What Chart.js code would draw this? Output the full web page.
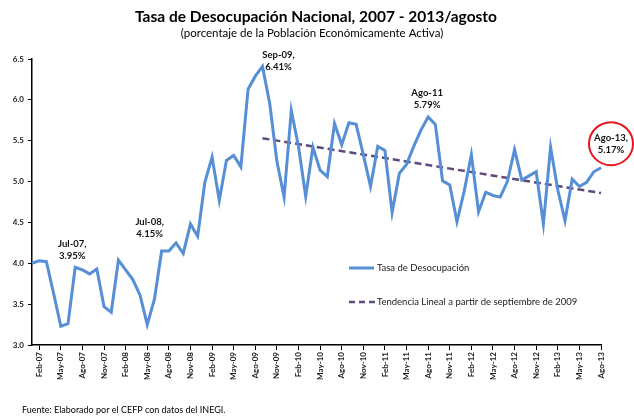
<!DOCTYPE html>
<html>
<head>
<meta charset="utf-8">
<script src="https://cdn.jsdelivr.net/npm/chart.js@4"></script>
<style>
  html, body { margin: 0; padding: 0; background: #fff; }
  #wrap { width: 634px; height: 416px; position: relative; }
</style>
</head>
<body>
<div id="wrap"><canvas id="grafica" width="634" height="416"></canvas></div>
<script>
// Datos mensuales, enero 2007 - agosto 2013
const anios = ['07', '08', '09', '10', '11', '12', '13'];
const meses = ['Ene', 'Feb', 'Mar', 'Abr', 'May', 'Jun', 'Jul', 'Ago', 'Sep', 'Oct', 'Nov', 'Dic'];
const mesesEtiqueta = ['Feb', 'May', 'Ago', 'Nov'];

const tasa = [
    4.00, 4.03, 4.02, 3.63, 3.23, 3.26, 3.95, 3.92, 3.87, 3.93, 3.47, 3.40,
    4.04, 3.92, 3.80, 3.61, 3.25, 3.56, 4.15, 4.15, 4.25, 4.12, 4.48, 4.33,
    4.99, 5.30, 4.77, 5.26, 5.32, 5.18, 6.13, 6.29, 6.41, 5.96, 5.25, 4.81,
    5.87, 5.43, 4.82, 5.42, 5.14, 5.06, 5.71, 5.45, 5.72, 5.70, 5.33, 4.94,
    5.43, 5.38, 4.62, 5.10, 5.21, 5.43, 5.63, 5.79, 5.70, 5.01, 4.96, 4.51,
    4.88, 5.33, 4.63, 4.87, 4.83, 4.81, 5.00, 5.39, 5.02, 5.07, 5.12, 4.48,
    5.42, 4.90, 4.52, 5.03, 4.94, 4.99, 5.12, 5.17
];

// tendencia lineal desde septiembre de 2009 (extremos)
const tendenciaInicio = ['Sep-09', 5.53];
const tendenciaFin = ['Ago-13', 4.86];

const anotaciones = [
    ['Jul-07', 'Jul-07,', '3.95%'],
    ['Jul-08', 'Jul-08,', '4.15%'],
    ['Sep-09', 'Sep-09,', '6.41%'],
    ['Ago-11', 'Ago-11', '5.79%'],
    ['Ago-13', 'Ago-13,', '5.17%']
];

const yTicks = [3.0, 3.5, 4.0, 4.5, 5.0, 5.5, 6.0, 6.5];

const categorias = [];
anios.forEach(a => meses.forEach(m => categorias.push(m + '-' + a)));
categorias.length = tasa.length;

const tendencia = categorias.map(c => {
    if (c === tendenciaInicio[0]) return tendenciaInicio[1];
    if (c === tendenciaFin[0]) return tendenciaFin[1];
    return null;
});

const AZUL = '#568FD6';
const MORADO = '#5E4A7D';
const FUENTE = 'Lato, "Open Sans", sans-serif';

function etiquetaVisible(i) {
    return mesesEtiqueta.includes(categorias[i].slice(0, 3));
}

const extras = {
    id: 'extras',
    afterDraw(chart) {
        const ctx = chart.ctx;
        const x = chart.scales.x, y = chart.scales.y;
        ctx.save();
        ctx.fillStyle = '#000';
        ctx.textAlign = 'center';
        ctx.textBaseline = 'middle';
        ctx.font = 'bold 15.5px ' + FUENTE;
        ctx.fillText('Tasa de Desocupación Nacional, 2007 - 2013/agosto', 316, 17);
        ctx.font = '11.5px ' + FUENTE;
        ctx.fillText('(porcentaje de la Población Económicamente Activa)', 312, 33);

        ctx.textAlign = 'left';
        ctx.font = '9px ' + FUENTE;
        ctx.fillText('Fuente: Elaborado por el CEFP con datos del INEGI.', 22, 410);

        // leyenda
        ctx.strokeStyle = AZUL;
        ctx.lineWidth = 3;
        ctx.beginPath(); ctx.moveTo(349, 268); ctx.lineTo(374, 268); ctx.stroke();
        ctx.strokeStyle = MORADO;
        ctx.lineWidth = 2.5;
        ctx.setLineDash([6, 4]);
        ctx.beginPath(); ctx.moveTo(349, 302); ctx.lineTo(375, 302); ctx.stroke();
        ctx.setLineDash([]);
        ctx.fillStyle = '#1a1a1a';
        ctx.font = '9.5px ' + FUENTE;
        ctx.fillText('Tasa de Desocupación', 377, 268);
        ctx.fillText('Tendencia Lineal a partir de septiembre de 2009', 377, 302);

        // anotaciones
        const desplaz = {
            'Jul-07': [-3, -17],
            'Jul-08': [-12, -23],
            'Sep-09': [16, -5],
            'Ago-11': [-1, -18],
            'Ago-13': [10, -24]
        };
        ctx.fillStyle = '#111';
        ctx.textAlign = 'center';
        ctx.font = 'bold 9.5px ' + FUENTE;
        anotaciones.forEach(([cat, l1, l2]) => {
            const i = categorias.indexOf(cat);
            const px = x.getPixelForValue(i) + desplaz[cat][0];
            const py = y.getPixelForValue(tasa[i]) + desplaz[cat][1];
            ctx.fillText(l1, px, py - 6);
            ctx.fillText(l2, px, py + 6);
            if (cat === 'Ago-13') {
                ctx.strokeStyle = '#E8141B';
                ctx.lineWidth = 2;
                ctx.beginPath();
                ctx.ellipse(px, py, 22, 21.5, 0, 0, Math.PI * 2);
                ctx.stroke();
            }
        });
        ctx.restore();
    }
};

new Chart(document.getElementById('grafica'), {
    type: 'line',
    data: {
        labels: categorias,
        datasets: [{
            label: 'Tasa de Desocupación',
            data: tasa,
            borderColor: AZUL,
            borderWidth: 3,
            pointRadius: 0,
            tension: 0
        },
        {
            label: 'Tendencia Lineal a partir de septiembre de 2009',
            data: tendencia,
            borderColor: MORADO,
            borderWidth: 2.5,
            borderDash: [7, 4],
            pointRadius: 0,
            spanGaps: true
        }]
    },
    options: {
        responsive: false,
        animation: false,
        layout: { padding: { top: 59, right: 33, left: 0, bottom: 0 } },
        plugins: {
            legend: { display: false },
            title: { display: false },
            tooltip: { enabled: false }
        },
        scales: {
            x: {
                offset: false,
                afterFit: (s) => { s.height = 71; },
                border: { color: '#000', width: 1.5 },
                grid: {
                    drawOnChartArea: false,
                    tickLength: 5,
                    color: (c) => etiquetaVisible(c.index) ? '#000' : 'rgba(0,0,0,0)'
                },
                ticks: {
                    autoSkip: false,
                    minRotation: 90,
                    maxRotation: 90,
                    padding: 2,
                    color: '#1a1a1a',
                    font: { family: FUENTE, size: 8, weight: 'bold' },
                    callback: (v, i) => etiquetaVisible(i) ? categorias[i] : ''
                }
            },
            y: {
                min: 3,
                max: 6.5,
                afterFit: (s) => { s.width = 32; },
                afterBuildTicks: (s) => { s.ticks = yTicks.map(v => ({ value: v })); },
                border: { color: '#000', width: 1.5 },
                grid: { drawOnChartArea: false, tickLength: 4, color: '#000' },
                ticks: {
                    padding: 4,
                    color: '#1a1a1a',
                    font: { family: FUENTE, size: 8, weight: 'bold' },
                    callback: (v) => v.toFixed(1)
                }
            }
        }
    },
    plugins: [extras]
});
</script>
</body>
</html>
